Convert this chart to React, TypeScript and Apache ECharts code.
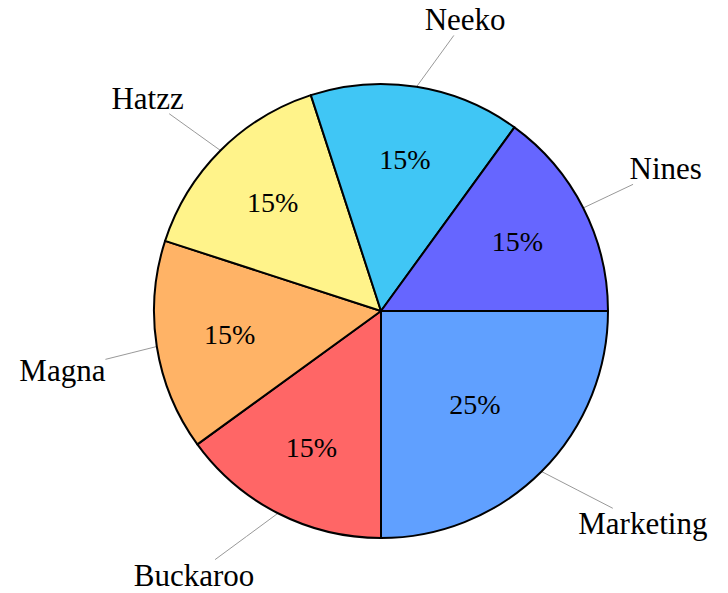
import React, { useEffect, useRef } from 'react';
import * as echarts from 'echarts';

const categories = ['Marketing', 'Buckaroo', 'Magna', 'Hatzz', 'Neeko', 'Nines'];
const shares = [25, 15, 15, 15, 15, 15];
const sliceColors = ['#60A0FF', '#FF6666', '#FFB366', '#FFF38A', '#40C6F5', '#6666FF'];

const W = 728;
const H = 593;
const CX = 381;
const CY = 311;
const R = 227;
const PIN = 52;
const FONT = '"Liberation Serif", "Times New Roman", serif';

const total = shares.reduce((a, b) => a + b, 0);

function midAngle(i: number): number {
  let cum = 0;
  for (let k = 0; k < i; k++) cum += shares[k];
  return -((cum + shares[i] / 2) / total) * 2 * Math.PI;
}

export default function App() {
  const ref = useRef<HTMLDivElement>(null);

  useEffect(() => {
    document.body.style.margin = '0';
    const chart = echarts.init(ref.current!, undefined, { renderer: 'svg' });
    const data = categories.map((name, i) => ({
      name,
      value: shares[i],
      itemStyle: { color: sliceColors[i] },
    }));

    chart.setOption({
      animation: false,
      backgroundColor: '#ffffff',
      series: [
        {
          type: 'pie',
          center: [CX, CY],
          radius: R,
          startAngle: 0,
          clockwise: true,
          avoidLabelOverlap: false,
          silent: true,
          data,
          itemStyle: { borderColor: '#000', borderWidth: 2 },
          label: {
            show: true,
            position: 'outside',
            formatter: '{b}',
            fontFamily: FONT,
            fontSize: 31,
            color: '#000',
            padding: [2, 3],
          },
          labelLine: {
            show: true,
            length: 20,
            length2: 10,
            lineStyle: { color: '#999', width: 1 },
          },
          labelLayout: (params: any) => {
            const i = params.dataIndex;
            const a = midAngle(i);
            const c = Math.cos(a);
            const s = Math.sin(a);
            const px = CX + R * c;
            const py = CY - R * s;
            const w = params.labelRect.width;
            const h = params.labelRect.height;
            const cornerX = px + PIN * c;
            const cornerY = py - PIN * s;
            const left = c >= 0 ? cornerX : cornerX - w;
            const top = s >= 0 ? cornerY - h : cornerY;
            const ccx = left + w / 2;
            const ccy = top + h / 2;
            const dx = ccx - px;
            const dy = ccy - py;
            const tx = dx !== 0 ? Math.abs(w / 2 / dx) : Infinity;
            const ty = dy !== 0 ? Math.abs(h / 2 / dy) : Infinity;
            const t = Math.min(tx, ty);
            const ex = ccx - dx * t;
            const ey = ccy - dy * t;
            return {
              x: ccx,
              y: ccy,
              align: 'center',
              verticalAlign: 'middle',
              labelLinePoints: [
                [px, py],
                [(px + ex) / 2, (py + ey) / 2],
                [ex, ey],
              ],
            };
          },
        },
        {
          type: 'pie',
          center: [CX, CY],
          radius: R,
          startAngle: 0,
          clockwise: true,
          avoidLabelOverlap: false,
          silent: true,
          data: categories.map((name, i) => ({ name, value: shares[i] })),
          itemStyle: { color: 'rgba(0,0,0,0)', borderWidth: 0 },
          label: {
            show: true,
            position: 'inside',
            formatter: '{c}%',
            fontFamily: FONT,
            fontSize: 28,
            color: '#000',
          },
          labelLine: { show: false },
          labelLayout: (params: any) => {
            const i = params.dataIndex;
            const a = midAngle(i);
            const f = 0.81 - 0.9 * (shares[i] / total);
            return {
              x: CX + R * f * Math.cos(a),
              y: CY - R * f * Math.sin(a),
              align: 'center',
              verticalAlign: 'middle',
            };
          },
        },
      ],
    });
    return () => chart.dispose();
  }, []);

  return <div ref={ref} style={{ width: W, height: H }} />;
}
